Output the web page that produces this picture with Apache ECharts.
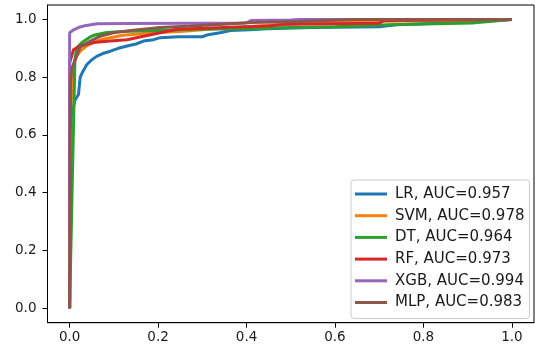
<!DOCTYPE html>
<html>
<head>
<meta charset="utf-8">
<script src="https://cdn.jsdelivr.net/npm/echarts@6/dist/echarts.min.js"></script>
<style>
  html, body { margin: 0; padding: 0; background: #fff; }
  #chart { width: 535px; height: 353px; }
</style>
</head>
<body>
<div id="chart"></div>
<script>
// ROC curves, [fpr, tpr]
const modelNames = ['LR', 'SVM', 'DT', 'RF', 'XGB', 'MLP'];
const aucValues = ['0.957', '0.978', '0.964', '0.973', '0.994', '0.983'];
const colors = ['#1f77b4', '#ff7f0e', '#2ca02c', '#d62728', '#9467bd', '#8c564b'];
const tickValues = [0, 0.2, 0.4, 0.6, 0.8, 1.0];

const rocLR = [[0, 0], [0, 0.6], [0.005, 0.69], [0.009, 0.7], [0.012, 0.72], [0.02, 0.74], [0.024, 0.8],
  [0.03, 0.82], [0.039, 0.844], [0.05, 0.86], [0.062, 0.873], [0.075, 0.882], [0.092, 0.89], [0.11, 0.9],
  [0.13, 0.908], [0.15, 0.915], [0.167, 0.925], [0.19, 0.93], [0.205, 0.937], [0.246, 0.94], [0.3, 0.94],
  [0.31, 0.946], [0.34, 0.954], [0.364, 0.962], [0.42, 0.965], [0.446, 0.968], [0.55, 0.972], [0.7, 0.975],
  [0.74, 0.982], [0.85, 0.988], [0.95, 0.995], [1, 1]];
const rocSVM = [[0, 0], [0, 0.62], [0.008, 0.84], [0.016, 0.873], [0.024, 0.89], [0.04, 0.91], [0.07, 0.93],
  [0.12, 0.945], [0.2, 0.955], [0.25, 0.958], [0.35, 0.97], [0.49, 0.983], [0.6, 0.99], [0.75, 0.995], [1, 1]];
const rocDT = [[0, 0], [0.012, 0.86], [0.016, 0.902], [0.028, 0.92], [0.047, 0.94], [0.054, 0.945],
  [0.084, 0.955], [0.12, 0.958], [0.2, 0.962], [0.28, 0.966], [0.41, 0.968], [0.5, 0.972], [0.6, 0.975],
  [0.72, 0.982], [0.91, 0.988], [1, 1]];
const rocRF = [[0, 0], [0, 0.85], [0.009, 0.896], [0.024, 0.908], [0.054, 0.92], [0.092, 0.925], [0.13, 0.93],
  [0.167, 0.942], [0.205, 0.954], [0.243, 0.966], [0.35, 0.972], [0.45, 0.977], [0.49, 0.983], [0.6, 0.985],
  [0.7, 0.987], [0.71, 0.996], [1, 1]];
const rocXGB = [[0, 0], [0, 0.954], [0.009, 0.964], [0.02, 0.972], [0.031, 0.977], [0.062, 0.985], [0.13, 0.986],
  [0.4, 0.988], [0.41, 0.996], [0.5, 0.998], [0.52, 1], [1, 1]];
const rocMLP = [[0, 0], [0.002, 0.78], [0.005, 0.83], [0.013, 0.862], [0.024, 0.905], [0.047, 0.925],
  [0.069, 0.942], [0.099, 0.954], [0.144, 0.963], [0.205, 0.972], [0.273, 0.977], [0.348, 0.983],
  [0.41, 0.989], [0.52, 0.993], [0.61, 0.998], [0.65, 1], [1, 1]];

const curves = [rocLR, rocSVM, rocDT, rocRF, rocXGB, rocMLP];

const chart = echarts.init(document.getElementById('chart'));

const axisCommon = {
  type: 'value',
  min: -0.05,
  max: 1.05,
  splitLine: { show: false },
  axisLine: { show: true, onZero: false, lineStyle: { color: '#000', width: 1 } },
  axisTick: { show: true, inside: false, length: 5, customValues: tickValues, lineStyle: { color: '#000', width: 1 } },
  axisLabel: {
    customValues: tickValues,
    formatter: v => v.toFixed(1),
    color: '#1a1a1a',
    fontSize: 13.5,
    fontFamily: 'DejaVu Sans'
  }
};

const option = {
  animation: false,
  backgroundColor: '#fff',
  grid: {
    left: 47.5, right: 1, top: 5, bottom: 30.3,
    show: true, borderColor: '#000', borderWidth: 1, backgroundColor: 'transparent'
  },
  xAxis: Object.assign({}, axisCommon, {
    axisLabel: Object.assign({}, axisCommon.axisLabel, { margin: 8 })
  }),
  yAxis: Object.assign({}, axisCommon, {
    axisLabel: Object.assign({}, axisCommon.axisLabel, { margin: 11 })
  }),
  legend: {
    orient: 'vertical',
    left: 351,
    top: 180,
    icon: 'rect',
    itemWidth: 32,
    itemHeight: 3,
    itemGap: 5.7,
    padding: [6, 5, 8, 4],
    backgroundColor: 'rgba(255,255,255,0.8)',
    borderColor: '#cccccc',
    borderWidth: 1,
    borderRadius: 3,
    textStyle: {
      fontSize: 15,
      lineHeight: 16,
      fontFamily: 'DejaVu Sans',
      color: '#1a1a1a',
      padding: [0, 0, 0, 3]
    },
    data: modelNames.map((m, i) => m + ', AUC=' + aucValues[i])
  },
  series: curves.map((pts, i) => ({
    name: modelNames[i] + ', AUC=' + aucValues[i],
    type: 'line',
    data: pts,
    symbol: 'none',
    color: colors[i],
    lineStyle: { width: 3, color: colors[i] },
    z: 2 + i
  }))
};

chart.setOption(option);
</script>
</body>
</html>
